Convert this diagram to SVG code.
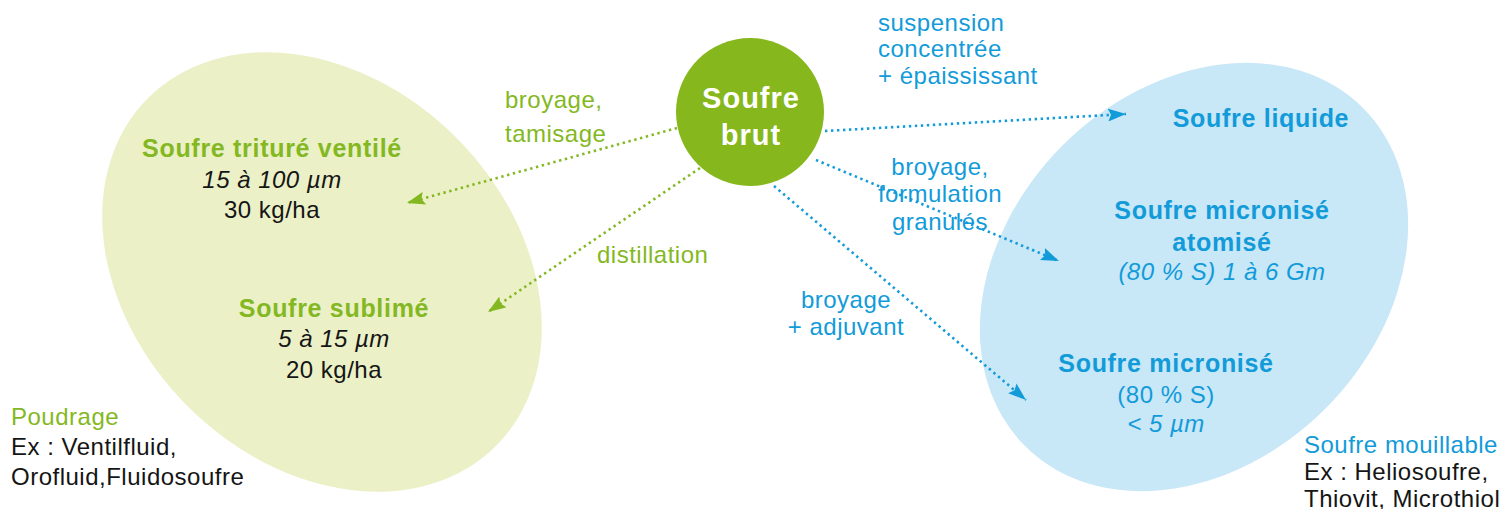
<svg xmlns="http://www.w3.org/2000/svg" width="1503" height="509" viewBox="0 0 1503 509">
  <style>
    text { font-family: "Liberation Sans", Arial, Helvetica, sans-serif; font-size: 24px; letter-spacing: 0.5px; }
    .b { font-weight: bold; font-size: 25px; letter-spacing: 0.7px; }
    .i { font-style: italic; }
    .c { text-anchor: middle; }
    .g { fill: #84b823; }
    .bl { fill: #129bd9; }
    .k { fill: #151515; }
    .w { fill: #ffffff; font-weight: bold; font-size: 29px; letter-spacing: 1px; }
    .lg { fill: none; stroke: #84b823; stroke-width: 2.6; stroke-dasharray: 2.4 3.6; }
    .lb { fill: none; stroke: #129bd9; stroke-width: 2.6; stroke-dasharray: 2.4 3.6; }
  </style>
  <defs>
    <marker id="arrowGreen" viewBox="0 0 18 13" refX="18" refY="6.5" markerWidth="18" markerHeight="13" markerUnits="userSpaceOnUse" orient="auto">
      <path d="M0,0 L18,6.5 L0,13 L3,6.5 z" fill="#84b823"/>
    </marker>
    <marker id="arrowBlue" viewBox="0 0 18 13" refX="18" refY="6.5" markerWidth="18" markerHeight="13" markerUnits="userSpaceOnUse" orient="auto">
      <path d="M0,0 L18,6.5 L0,13 L3,6.5 z" fill="#129bd9"/>
    </marker>
  </defs>

  <rect width="1503" height="509" fill="#ffffff"/>

  <!-- Poudrage family -->
  <g id="poudrage">
    <ellipse cx="322" cy="272" rx="246" ry="190" transform="rotate(45 322 272)" fill="#ebf0c7"/>
    <g id="trituré">
      <text class="b g c" x="272" y="157">Soufre trituré ventilé</text>
      <text class="i k c" x="272" y="188">15 à 100 µm</text>
      <text class="k c" x="272" y="218">30 kg/ha</text>
    </g>
    <g id="sublimé">
      <text class="b g c" x="334" y="317">Soufre sublimé</text>
      <text class="i k c" x="334" y="347">5 à 15 µm</text>
      <text class="k c" x="334" y="378">20 kg/ha</text>
    </g>
    <g id="poudrage-legend">
      <text class="g" x="11" y="425">Poudrage</text>
      <text class="k" x="11" y="455">Ex : Ventilfluid,</text>
      <text class="k" x="11" y="485">Orofluid,Fluidosoufre</text>
    </g>
  </g>

  <!-- Mouillable family -->
  <g id="mouillable">
    <ellipse cx="1194" cy="277" rx="239" ry="186" transform="rotate(-45 1194 277)" fill="#c8e7f7"/>
    <g id="liquide">
      <text class="b bl c" x="1261" y="127">Soufre liquide</text>
    </g>
    <g id="atomisé">
      <text class="b bl c" x="1222" y="219">Soufre micronisé</text>
      <text class="b bl c" x="1222" y="251">atomisé</text>
      <text class="i bl c" x="1222" y="280">(80 % S) 1 à 6 Gm</text>
    </g>
    <g id="micronisé">
      <text class="b bl c" x="1166" y="372">Soufre micronisé</text>
      <text class="bl c" x="1166" y="403">(80 % S)</text>
      <text class="i bl c" x="1166" y="432">&lt; 5 µm</text>
    </g>
    <g id="mouillable-legend">
      <text class="bl" x="1304" y="453">Soufre mouillable</text>
      <text class="k" x="1304" y="480">Ex : Heliosoufre,</text>
      <text class="k" x="1304" y="507">Thiovit, Microthiol</text>
    </g>
  </g>

  <!-- Process labels -->
  <g id="labels">
    <text class="g" x="505" y="108">broyage,</text>
    <text class="g" x="505" y="142">tamisage</text>
    <text class="g" x="597" y="263">distillation</text>
    <text class="bl" x="878" y="31">suspension</text>
    <text class="bl" x="878" y="57">concentrée</text>
    <text class="bl" x="878" y="84">+ épaississant</text>
    <text class="bl c" x="940" y="175">broyage,</text>
    <text class="bl c" x="940" y="202">formulation</text>
    <text class="bl c" x="940" y="230">granulés</text>
    <text class="bl c" x="846" y="308">broyage</text>
    <text class="bl c" x="846" y="335">+ adjuvant</text>
  </g>

  <!-- Connectors -->
  <g id="connectors">
    <line class="lg" x1="677" y1="128" x2="407" y2="203" marker-end="url(#arrowGreen)"/>
    <line class="lg" x1="700" y1="168" x2="488" y2="312" marker-end="url(#arrowGreen)"/>
    <line class="lb" x1="825" y1="131" x2="1126" y2="114" marker-end="url(#arrowBlue)"/>
    <line class="lb" x1="816" y1="160" x2="1059" y2="261" marker-end="url(#arrowBlue)"/>
    <line class="lb" x1="774" y1="186" x2="1026" y2="400" marker-end="url(#arrowBlue)"/>
  </g>

  <!-- Source node -->
  <g id="soufre-brut">
    <circle cx="750" cy="112" r="74" fill="#86b81e"/>
    <text class="w c" x="751" y="108">Soufre</text>
    <text class="w c" x="751" y="145">brut</text>
  </g>
</svg>
